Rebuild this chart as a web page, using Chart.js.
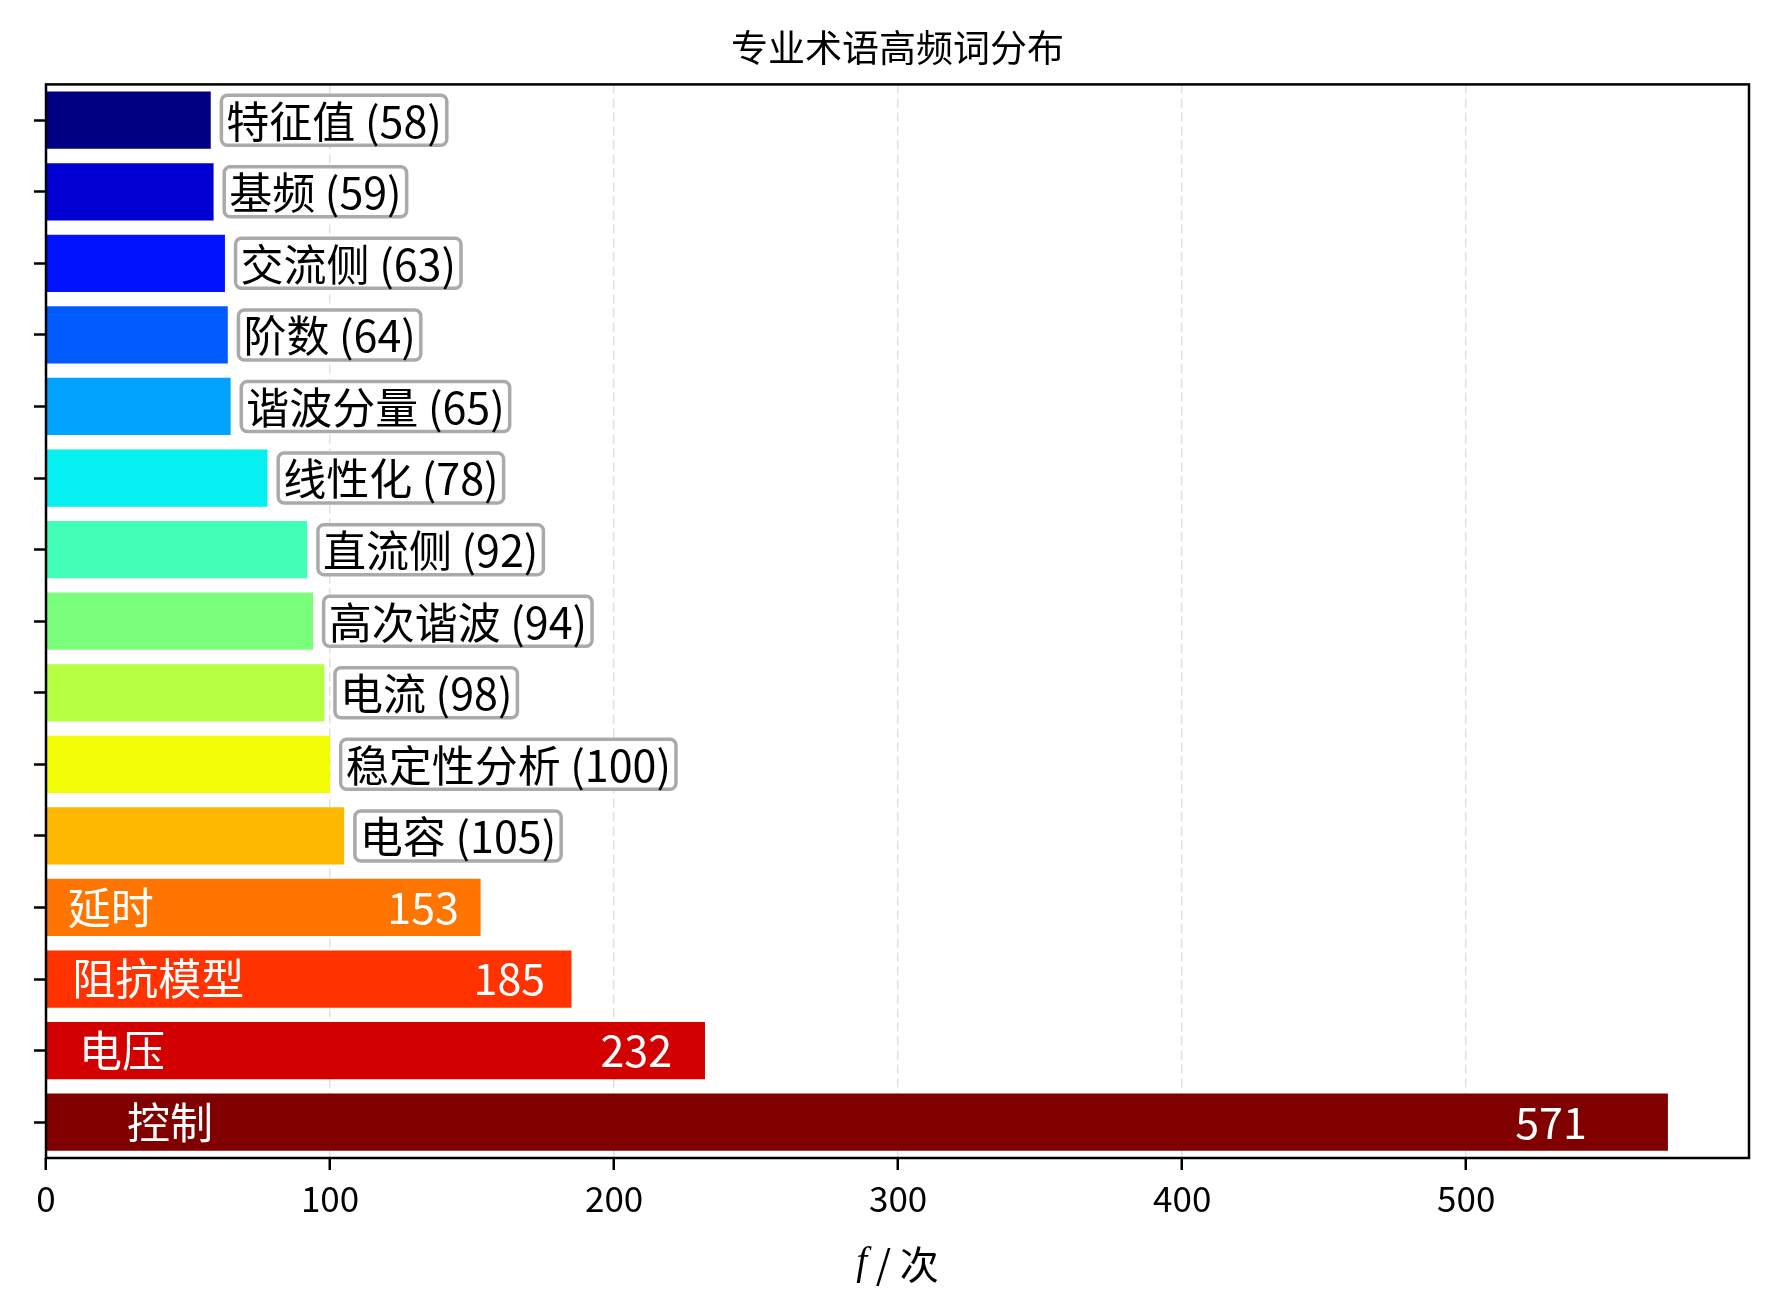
<!DOCTYPE html>
<html>
<head>
<meta charset="utf-8">
<script src="https://cdn.jsdelivr.net/npm/chart.js@4.4.1/dist/chart.umd.min.js"></script>
<style>
  html, body { margin: 0; padding: 0; background: #fff; }
  canvas { display: block; }
</style>
</head>
<body>
<canvas id="termChart" width="1779" height="1312"></canvas>
<script>
// --- Datos ---
const terms = ['特征值', '基频', '交流侧', '阶数', '谐波分量', '线性化', '直流侧', '高次谐波',
               '电流', '稳定性分析', '电容', '延时', '阻抗模型', '电压', '控制'];
const counts = [58, 59, 63, 64, 65, 78, 92, 94, 98, 100, 105, 153, 185, 232, 571];
// jet colormap, de arriba hacia abajo
const barColors = ['#000080', '#0000d2', '#0012ff', '#005bff', '#00a4ff', '#06f0f1', '#41ffb6', '#7bff7b',
                   '#b6ff41', '#f1fc06', '#ffb900', '#ff7500', '#ff3200', '#d20000', '#800000'];
const xTicks = [0, 100, 200, 300, 400, 500];
const xMax = 599.55;
const chartTitle = '专业术语高频词分布';
const xLabelVar = 'f';
const xLabelUnit = ' / 次';
const insideThreshold = 150; // barras más largas llevan la etiqueta dentro

const FONT = "'Noto Sans CJK SC', 'Noto Sans', sans-serif";
const LABEL_SIZE = 43;

// --- Plugins ---
const barLabels = {
    id: 'barLabels',
    afterDraw(chart) {
        const ctx = chart.ctx;
        const x = chart.scales.x;
        const meta = chart.getDatasetMeta(0);
        ctx.save();
        ctx.font = `${LABEL_SIZE}px ${FONT}`;
        ctx.textBaseline = 'middle';
        meta.data.forEach((bar, i) => {
            const v = counts[i];
            const y = bar.y;
            if (v > insideThreshold) {
                ctx.fillStyle = '#fff';
                ctx.textAlign = 'left';
                ctx.fillText(terms[i], x.getPixelForValue(v * 0.05), y);
                ctx.textAlign = 'right';
                ctx.fillText(String(v), x.getPixelForValue(v * 0.95), y);
            } else {
                const text = `${terms[i]} (${v})`;
                const tx = x.getPixelForValue(v + 5.5);
                const w = ctx.measureText(text).width;
                const h = 50;
                ctx.beginPath();
                ctx.roundRect(tx - 5, y - h / 2, w + 10, h, 6);
                ctx.fillStyle = '#fff';
                ctx.fill();
                ctx.lineWidth = 3.5;
                ctx.strokeStyle = '#aaaaaa';
                ctx.stroke();
                ctx.fillStyle = '#000';
                ctx.textAlign = 'left';
                ctx.fillText(text, tx, y + 1);
            }
        });
        ctx.restore();
    }
};

const frameAndLabel = {
    id: 'frameAndLabel',
    afterDraw(chart) {
        const ctx = chart.ctx;
        const a = chart.chartArea;
        ctx.save();
        ctx.strokeStyle = '#000';
        ctx.lineWidth = 2.5;
        ctx.strokeRect(a.left, a.top, a.right - a.left, a.bottom - a.top);

        // título del eje x: f en cursiva + " / 次"
        const size = 39;
        ctx.font = `italic ${size}px 'Liberation Serif', serif`;
        const w1 = ctx.measureText(xLabelVar).width;
        ctx.font = `${size}px ${FONT}`;
        const w2 = ctx.measureText(xLabelUnit).width;
        const cx = (a.left + a.right) / 2;
        const y = 1264;
        let sx = cx - (w1 + w2) / 2;
        ctx.fillStyle = '#000';
        ctx.textBaseline = 'middle';
        ctx.textAlign = 'left';
        ctx.font = `italic ${size}px 'Liberation Serif', serif`;
        ctx.fillText(xLabelVar, sx, y);
        ctx.font = `${size}px ${FONT}`;
        ctx.fillText(xLabelUnit, sx + w1, y);
        ctx.restore();
    }
};

// --- Gráfica ---
new Chart(document.getElementById('termChart'), {
    type: 'bar',
    data: {
        labels: terms,
        datasets: [{
            data: counts,
            backgroundColor: barColors,
            borderWidth: 0,
            categoryPercentage: 0.8,
            barPercentage: 1.0
        }]
    },
    options: {
        indexAxis: 'y',
        responsive: false,
        animation: false,
        devicePixelRatio: 1,
        layout: { padding: { left: 0, right: 30, top: 0, bottom: 0 } },
        plugins: {
            legend: { display: false },
            tooltip: { enabled: false },
            title: {
                display: true,
                text: chartTitle,
                fullSize: false,
                color: '#000',
                font: { family: FONT, size: 37, weight: 'normal', lineHeight: 1.2 },
                padding: { top: 26, bottom: 14 }
            }
        },
        scales: {
            x: {
                type: 'linear',
                min: 0,
                max: xMax,
                z: 1,
                afterFit(scale) { scale.height = 154; },
                afterBuildTicks(scale) { scale.ticks = xTicks.map(v => ({ value: v })); },
                ticks: {
                    color: '#000',
                    padding: 8,
                    font: { family: FONT, size: 35 }
                },
                grid: {
                    color: 'rgba(0,0,0,0.12)',
                    lineWidth: 1.5,
                    tickColor: '#000',
                    tickWidth: 2.5,
                    tickLength: 12
                },
                border: { display: false, dash: [9, 5] }
            },
            y: {
                type: 'category',
                offset: true,
                z: 1,
                afterFit(scale) { scale.width = 46; },
                ticks: { display: false },
                grid: {
                    offset: false,
                    drawOnChartArea: false,
                    tickColor: '#000',
                    tickWidth: 2.5,
                    tickLength: 12
                },
                border: { display: false }
            }
        }
    },
    plugins: [barLabels, frameAndLabel]
});
</script>
</body>
</html>
